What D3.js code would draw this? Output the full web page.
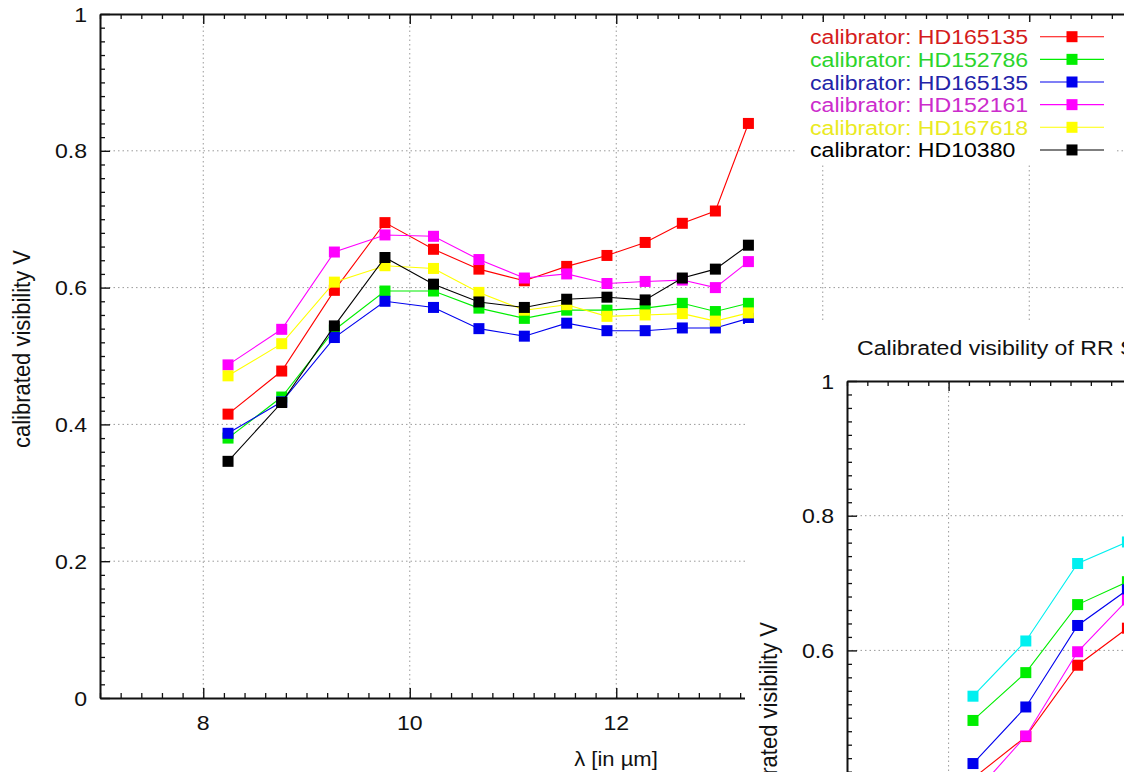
<!DOCTYPE html>
<html>
<head>
<meta charset="utf-8">
<script src="https://cdn.jsdelivr.net/npm/d3@7"></script>
<style>
  html, body { margin: 0; padding: 0; background: #fff; }
  svg { display: block; font-family: "Liberation Sans", Arial, Helvetica, sans-serif; }
</style>
</head>
<body>
<svg id="chart" width="1124" height="772"></svg>
<script>
// MIDI wavelength bins (µm)
const wavelengths = [8.24, 8.76, 9.27, 9.76, 10.23, 10.67, 11.11, 11.52, 11.91, 12.28, 12.64, 12.96, 13.28];

// Calibrated visibility of the science target, one series per calibrator
const calibratorNames = ["HD165135", "HD152786", "HD165135", "HD152161", "HD167618", "HD10380"];
const visCal1 = [0.415, 0.478, 0.596, 0.695, 0.656, 0.627, 0.610, 0.631, 0.647, 0.666, 0.694, 0.712, 0.840];
const visCal2 = [0.380, 0.440, 0.538, 0.595, 0.595, 0.570, 0.555, 0.567, 0.567, 0.570, 0.577, 0.565, 0.577];
const visCal3 = [0.387, 0.433, 0.527, 0.580, 0.571, 0.540, 0.529, 0.548, 0.537, 0.537, 0.541, 0.541, 0.555];
const visCal4 = [0.487, 0.539, 0.652, 0.677, 0.675, 0.641, 0.614, 0.620, 0.606, 0.609, 0.611, 0.600, 0.638];
const visCal5 = [0.471, 0.518, 0.608, 0.632, 0.628, 0.593, 0.567, 0.575, 0.558, 0.560, 0.562, 0.551, 0.563];
const visCal6 = [0.346, 0.432, 0.544, 0.644, 0.605, 0.579, 0.571, 0.583, 0.586, 0.582, 0.614, 0.627, 0.662];

// Second panel: calibrated visibility of RR Sco (first bins)
const rrWavelengths = [8.24, 8.76, 9.27, 9.76];
const rrVisRed = [0.410, 0.472, 0.578, 0.633];
const rrVisGreen = [0.496, 0.567, 0.668, 0.702];
const rrVisBlue = [0.432, 0.516, 0.637, 0.690];
const rrVisMagenta = [0.385, 0.473, 0.598, 0.675];
const rrVisCyan = [0.532, 0.614, 0.729, 0.761];

// Axis tick values
const xMajorTicks = [8, 10, 12, 14, 16];
const yMajorTicks = [0, 0.2, 0.4, 0.6, 0.8, 1];
const yTickLabels = ["0", "0.2", "0.4", "0.6", "0.8", "1"];

const markerColors = ["#ff0000", "#00ee00", "#0000ee", "#ff00ff", "#ffff00", "#000000"];
const textColors = ["#d41c1c", "#2cd42c", "#2323a8", "#cc2ccc", "#eaea22", "#000000"];

const mainSeries = [visCal1, visCal2, visCal3, visCal4, visCal5, visCal6].map((v, i) => ({
  name: "calibrator: " + calibratorNames[i], values: v, color: markerColors[i], text: textColors[i]
}));
const rrSeries = [
  { values: rrVisRed, color: "#ff0000" },
  { values: rrVisGreen, color: "#00ee00" },
  { values: rrVisBlue, color: "#0000ee" },
  { values: rrVisMagenta, color: "#ff00ff" },
  { values: rrVisCyan, color: "#00f0f0" }
];

const svg = d3.select("#chart");
const SX = 1.1;        // horizontal glyph stretch of the figure's lettering
const FONT = 21;
const MS = 11;         // marker square size

function range(a, b, step) {
  const out = [];
  for (let v = a; v <= b + 1e-9; v += step) out.push(+v.toFixed(4));
  return out;
}
function stretchedText(g, x, y, str, opts = {}) {
  return g.append("text")
    .attr("transform", `translate(${x},${y}) scale(${SX},1)` + (opts.rotate ? ` rotate(${opts.rotate})` : ""))
    .attr("text-anchor", opts.anchor || "start")
    .attr("font-size", opts.size || FONT)
    .attr("fill", opts.fill || "#111")
    .text(str);
}

// One gnuplot-style panel: frame, inward ticks, dotted grid
function drawPanel(g, x, y, xMin, xMax, xMinor, yMinor, showXLabels) {
  const [x0, x1] = x.range();
  const [y0, y1] = y.range(); // y0 bottom, y1 top

  const grid = g.append("g").attr("stroke", "#9a9a9a").attr("stroke-width", 1)
    .attr("stroke-dasharray", "1.5,3");
  grid.selectAll("line.gx").data(xMajorTicks.filter(t => t > xMin && t < xMax)).join("line")
    .attr("x1", d => x(d)).attr("x2", d => x(d)).attr("y1", y0).attr("y2", y1);
  grid.selectAll("line.gy").data(yMajorTicks.filter(t => t > 0 && t < 1)).join("line")
    .attr("y1", d => y(d)).attr("y2", d => y(d)).attr("x1", x0).attr("x2", x1);

  const minorX = range(xMin, xMax, xMinor).filter(v => !xMajorTicks.includes(v));
  const minorY = range(0, 1, yMinor).filter(v => !yMajorTicks.some(t => Math.abs(t - v) < 1e-6));

  const axes = [
    { ax: d3.axisBottom(x), tr: `translate(0,${y0})`, major: xMajorTicks, minor: minorX },
    { ax: d3.axisTop(x), tr: `translate(0,${y1})`, major: xMajorTicks, minor: minorX },
    { ax: d3.axisLeft(y), tr: `translate(${x0},0)`, major: yMajorTicks, minor: minorY }
  ];
  axes.forEach(a => {
    const ga = g.append("g").attr("transform", a.tr);
    ga.call(a.ax.tickValues(a.minor).tickSizeInner(-5).tickSizeOuter(0).tickFormat(""));
    ga.select(".domain").remove();
    const gm = g.append("g").attr("transform", a.tr);
    gm.call(a.ax.tickValues(a.major).tickSizeInner(-10).tickSizeOuter(0).tickFormat(""));
    gm.selectAll("line").attr("stroke", "#111").attr("stroke-width", 1.4);
    gm.select(".domain").attr("stroke", "#111").attr("stroke-width", 2);
    ga.selectAll("line").attr("stroke", "#111").attr("stroke-width", 1.3);
  });

  // y tick labels
  yMajorTicks.forEach((t, i) => {
    stretchedText(g, x0 - 13, y(t) + 7.5, yTickLabels[i], { anchor: "end" });
  });
  if (showXLabels) {
    xMajorTicks.forEach(t => stretchedText(g, x(t), y0 + 32, String(t), { anchor: "middle" }));
  }
}

function drawSeries(g, x, y, xs, series) {
  const line = d3.line().x((d, i) => x(xs[i])).y(d => y(d));
  series.forEach(s => {
    const gs = g.append("g");
    gs.append("path").datum(s.values).attr("d", line)
      .attr("fill", "none").attr("stroke", s.color).attr("stroke-width", 1.1);
    gs.selectAll("rect").data(s.values).join("rect")
      .attr("x", (d, i) => x(xs[i]) - MS / 2).attr("y", d => y(d) - MS / 2)
      .attr("width", MS).attr("height", MS).attr("fill", s.color);
  });
}

// ---- main panel ----
const xMain = d3.scaleLinear().domain([7, 18]).range([100, 100 + 11 * 103.25]);
const yMain = d3.scaleLinear().domain([0, 1]).range([698, 14]);
const gMain = svg.append("g");
drawPanel(gMain, xMain, yMain, 7, 18, 0.2, 0.02, true);

// legend box (opaque)
const legendG = gMain.append("g");
legendG.append("rect").attr("x", 795).attr("y", 22).attr("width", 320).attr("height", 141).attr("fill", "#fff");

drawSeries(gMain, xMain, yMain, wavelengths, mainSeries);

mainSeries.forEach((s, i) => {
  const cy = 36.7 + i * 22.65;
  stretchedText(legendG, 810, cy + 7.5, s.name, { fill: s.text });
  legendG.append("line").attr("x1", 1040).attr("x2", 1104).attr("y1", cy).attr("y2", cy)
    .attr("stroke", s.color).attr("stroke-width", 1.1);
  legendG.append("rect").attr("x", 1072 - MS / 2).attr("y", cy - MS / 2)
    .attr("width", MS).attr("height", MS).attr("fill", s.color);
});

// axis titles
stretchedText(gMain, 616, 766, "λ [in µm]", { anchor: "middle", size: 20 });
gMain.append("text")
  .attr("transform", `translate(30,349) scale(1.05,1) rotate(-90)`)
  .attr("text-anchor", "middle").attr("font-size", 22).attr("fill", "#111")
  .text("calibrated visibility V");

// ---- second panel (RR Sco), lying over the lower right ----
const gRR = svg.append("g");
gRR.append("rect").attr("x", 745).attr("y", 323).attr("width", 400).attr("height", 460).attr("fill", "#fff");
const xRR = d3.scaleLinear().domain([7, 12]).range([847, 847 + 5 * 101.6]);
const yRR = d3.scaleLinear().domain([0, 1]).range([381 + 673.5, 381]);
drawPanel(gRR, xRR, yRR, 7, 12, 0.2, 0.02, false);
drawSeries(gRR, xRR, yRR, rrWavelengths, rrSeries);
stretchedText(gRR, 857, 355, "Calibrated visibility of RR Sco", { size: 21 });
gRR.append("text")
  .attr("transform", `translate(777,622) scale(1.05,1) rotate(-90)`)
  .attr("text-anchor", "end").attr("font-size", 22).attr("fill", "#111")
  .text("calibrated visibility V");
</script>
</body>
</html>
